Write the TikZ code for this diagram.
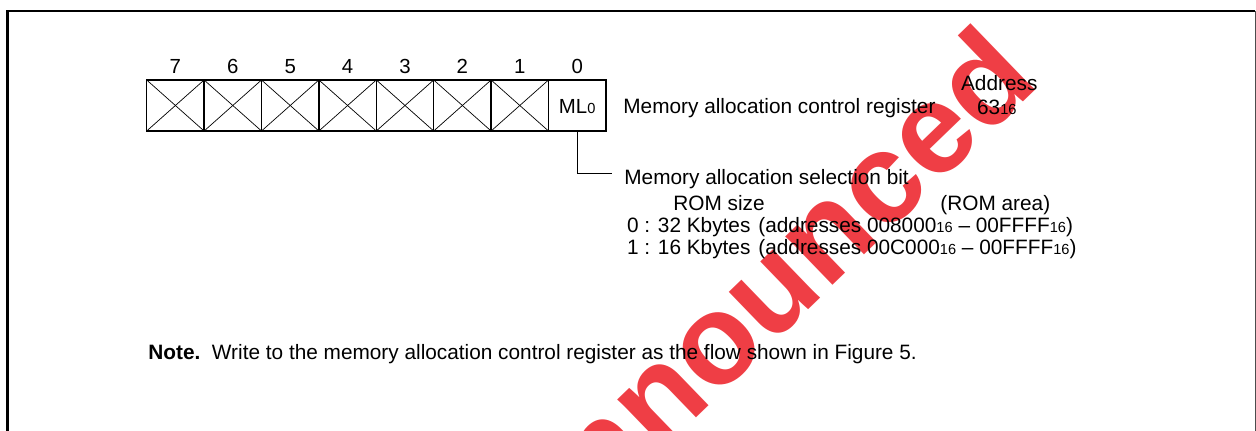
\documentclass[tikz,border=0pt]{standalone}
\usepackage{fontspec}
\setmainfont{Liberation Sans}
\newcommand\hexsub[1]{{\fontsize{7.3pt}{8pt}\selectfont #1}}
\definecolor{wmred}{RGB}{236,28,36}
\begin{document}
\begin{tikzpicture}[x=0.5pt,y=-0.5pt,
  txt/.style={anchor=base west,inner sep=0pt,font=\fontsize{10.4pt}{12pt}\selectfont},
  bitlbl/.style={anchor=base,inner sep=0pt,font=\fontsize{10.2pt}{12pt}\selectfont},
  cellbox/.style={draw,line width=0.75pt,minimum width=28.7pt,minimum height=25.5pt,inner sep=0pt,outer sep=0pt},
  cross/.style={line width=0.35pt},
  conn/.style={line width=0.45pt},
  framel/.style={line width=1.1pt},
  framer/.style={line width=0.5pt,draw=black!70},
  watermark/.style={rotate=44,anchor=base east,inner sep=0pt,text=wmred,opacity=0.85,
    font=\fontsize{64pt}{64pt}\selectfont\bfseries}]
\useasboundingbox (0,0) rectangle (1256,431);
% watermark (behind the drawing)
\node[watermark] (wm) at (1042,84) {Announced};
% frame
\draw[framel] (7.5,431) -- (7.5,11) -- (1255,11);
\draw[framer] (1255,11) -- (1255,431);
% register cells
\foreach \k/\nm in {0/b7,1/b6,2/b5,3/b4,4/b3,5/b2,6/b1,7/b0}{
  \node[cellbox,fill=white] (\nm) at ({146.7+57.4*(\k+0.5)},105.5) {};
}
\foreach \nm in {b7,b6,b5,b4,b3,b2,b1}{
  \draw[cross] (\nm.north west) -- (\nm.south east);
  \draw[cross] (\nm.south west) -- (\nm.north east);
}
% bit numbers
\foreach \k/\lbl in {0/7,1/6,2/5,3/4,4/3,5/2,6/1,7/0}{
  \node[bitlbl] (n\lbl) at ({146.7+57.4*(\k+0.5)},74) {\lbl};
}
\node[bitlbl] (ml) at (577.2,113.5) {ML\hexsub{0}};
% texts
\node[txt] (reg) at (623,113.5) {Memory allocation control register};
\node[txt] (addr) at (960.7,90.5) {Address};
\node[txt] (addrv) at (976.7,115) {63\hexsub{16}};
\coordinate (c1) at (612,173);
\draw[conn] (b0.south) |- (c1);
\node[txt] (sel) at (624,185) {Memory allocation selection bit};
\node[txt] (romsize) at (673,210.7) {ROM size};
\node[txt] (romarea) at (940,210.7) {(ROM area)};
\node[txt] (o0) at (626.7,232.7) {0 : 32 Kbytes};
\node[txt] (a0) at (758,232.7) {(addresses 008000\hexsub{16} -- 00FFFF\hexsub{16})};
\node[txt] (o1) at (626.7,254.3) {1 : 16 Kbytes};
\node[txt] (a1) at (758,254.3) {(addresses 00C000\hexsub{16} -- 00FFFF\hexsub{16})};
\node[txt] (note) at (148,360) {\textbf{Note.}\ \ Write to the memory allocation control register as the flow shown in Figure 5.};
\end{tikzpicture}
\end{document}
